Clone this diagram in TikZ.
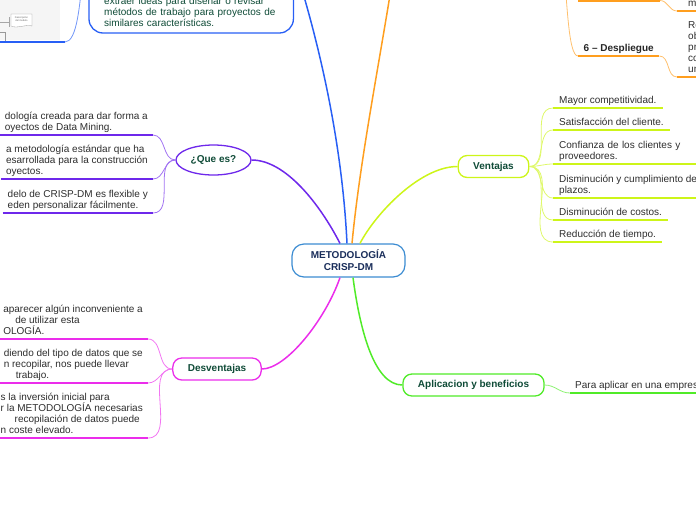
\documentclass[tikz,border=0pt]{standalone}
\usepackage{fontspec}
\setmainfont{Liberation Sans}
\usetikzlibrary{shapes.geometric}

\definecolor{azul}{RGB}{40,95,245}
\definecolor{naranja}{RGB}{255,158,30}
\definecolor{lila}{RGB}{110,40,235}
\definecolor{lima}{RGB}{205,245,25}
\definecolor{verde}{RGB}{80,235,40}
\definecolor{rosa}{RGB}{235,45,235}
\definecolor{borde}{RGB}{60,140,210}
\definecolor{tinta}{RGB}{15,75,55}
\definecolor{marino}{RGB}{25,45,90}
\definecolor{texto}{RGB}{45,45,45}

\begin{document}
\begin{tikzpicture}[
  x=1pt, y=-1pt,
  raiz/.style={
    draw=borde,
    line width=1.2pt,
    rounded corners=12pt,
    fill=white,
    align=center,
    minimum width=113pt,
    minimum height=33pt,
    font=\fontsize{10}{12}\selectfont\bfseries,
    text=marino
  },
  tema/.style={
    draw=#1,
    line width=1.3pt,
    rounded corners=9pt,
    fill=white,
    inner xsep=15pt,
    minimum height=22pt,
    font=\fontsize{10}{12}\selectfont\bfseries,
    text=tinta
  },
  globo/.style={
    ellipse,
    draw=#1,
    line width=1.3pt,
    fill=white,
    inner sep=0pt,
    minimum width=75pt,
    minimum height=30pt,
    font=\fontsize{10}{12}\selectfont\bfseries,
    text=tinta
  },
  hoja/.style={
    align=left,
    inner xsep=5pt,
    inner ysep=1.5pt,
    font=\fontsize{10}{11}\selectfont,
    text=texto,
    execute at end node=\strut
  },
  rama/.style={draw=#1, line width=1.5pt},
  hilo/.style={draw=#1!65, line width=0.8pt},
  raya/.style={draw=#1, line width=2pt}
]
\useasboundingbox (0,0) rectangle (696,520);
\clip (0,0) rectangle (696,520);

% --- Nodo central ---
\node[raiz] (crisp) at (348.5,260.5) {METODOLOGÍA\\CRISP-DM};

% --- ¿Que es? ---
\node[globo=lila] (quees) at (213.5,160) {¿Que es?};

\node[hoja,anchor=south east] (q1) at (153,135)
{dología creada para dar forma a\\oyectos de Data Mining.};

\node[hoja,anchor=south east] (q2) at (153,179)
{a metodología estándar que ha\\esarrollada para la construcción\\oyectos.};

\node[hoja,anchor=south east] (q3) at (153,213)
{delo de CRISP-DM es flexible y\\eden personalizar fácilmente.};

% --- Ventajas ---
\node[tema=lima] (ventajas) at (493.5,166.5) {Ventajas};

\node[hoja,anchor=south west,inner xsep=6pt] (v1) at (553,108) {Mayor competitividad.};
\node[hoja,anchor=south west,inner xsep=6pt] (v2) at (553,130) {Satisfacción del cliente.};
\node[hoja,anchor=south west,inner xsep=6pt,text width=140pt] (v3) at (553,164)
{Confianza de los clientes y\\proveedores.};
\node[hoja,anchor=south west,inner xsep=6pt] (v4) at (553,198)
{Disminución y cumplimiento de\\plazos.};
\node[hoja,anchor=south west,inner xsep=6pt] (v5) at (553,220) {Disminución de costos.};
\node[hoja,anchor=south west,inner xsep=6pt] (v6) at (553,242) {Reducción de tiempo.};

% --- Desventajas ---
\node[tema=rosa] (desv) at (217,369) {Desventajas};

\node[hoja,anchor=south east] (d1) at (148,339)
{aparecer algún inconveniente a\\\hspace*{12pt}de utilizar esta\\OLOGÍA.};

\node[hoja,anchor=south east] (d2) at (148,383)
{diendo del tipo de datos que se\\n recopilar, nos puede llevar\\\hspace*{12pt}trabajo.};

\node[hoja,anchor=south east] (d3) at (148,438)
{s la inversión inicial para\\r la METODOLOGÍA necesarias\\\hspace*{14pt}recopilación de datos puede\\n coste elevado.};

% --- Aplicacion y beneficios ---
\node[tema=verde] (aplic) at (473.5,385) {Aplicacion y beneficios};

\node[hoja,anchor=south west] (a1) at (570,393) {Para aplicar en una empresa};

% --- Fases (rama naranja, arriba a la derecha) ---
\coordinate (fases) at (562,-60);
\coordinate (fase5a) at (578,0.5);
\coordinate (fase5b) at (660,0.5);

\node[hoja,anchor=south west,inner xsep=5.5pt,
  font=\fontsize{10}{11}\selectfont\bfseries,text=black!85] (desp) at (578,56)
{6 – Despliegue};

\node[hoja,anchor=south west,inner xsep=11pt] (p0) at (677,11) {m};
\node[hoja,anchor=south west,inner xsep=11pt] (p1) at (677,77) {Re\\ob\\pr\\co\\un};

% --- Rama azul (arriba a la izquierda) ---
\node[hoja,anchor=south west,text width=174pt,inner xsep=15pt,inner ysep=3pt,
  text=tinta] (resumen) at (89,33)
{extraer ideas para diseñar o revisar\\métodos de trabajo para proyectos de\\similares características.};
\draw[azul,line width=1.3pt,rounded corners=14pt]
  ([yshift=40pt]resumen.north west) rectangle (resumen.south east);

% imagen incrustada
\node[anchor=south east,minimum width=80pt,minimum height=50pt,inner sep=0pt] (imagen) at (65,42) {};
\fill[black!4] (-5,-5) rectangle (60,40);
\draw[black!35,line width=0.3pt] (0,22) -- (9,22) (9,17) -- (9,27);
\draw[black!40,line width=0.3pt,fill=white]
  (11,14) -- (32,14) -- (32,26) .. controls (26,24) and (17,29) .. (11,26) -- cycle;
\node[font=\fontsize{2.5}{3}\selectfont,text=black!60,align=center] (imgtxt) at (21.5,19.5)
{Descripción\\del modelo};
\draw[black!40,line width=0.3pt] (-2,32) rectangle (5,41);

\coordinate (azulFin) at (296,-30);
\coordinate (naranjaFin) at (394,-30);
\coordinate (azulImg) at (83,-30);

% Ramas principales
\draw[rama=azul] ([xshift=-1.5pt]crisp.north) .. controls +(-5,-104) and +(22,70) .. (azulFin);
\draw[rama=naranja] ([xshift=3.5pt]crisp.north) .. controls +(8,-84) and +(-14,90) .. (naranjaFin);
\draw[rama=lila] ([xshift=-8.5pt]crisp.north) .. controls +(-20,-39) and +(34,0) .. (quees.east);
\draw[rama=lima] ([xshift=11.5pt]crisp.north) .. controls +(15,-29) and +(-38,0) .. (ventajas.west);
\draw[rama=rosa] ([xshift=-8.5pt]crisp.south) .. controls +(-15,43) and +(24,0) .. (desv.east);
\draw[rama=verde] ([xshift=4.5pt]crisp.south) .. controls +(7,53) and +(-28,0) .. (aplic.west);

% Hijos
\foreach \n in {q1,q2,q3} {
  \draw[hilo=lila] (quees.west) to[out=180,in=0] (\n.south east);
  \draw[raya=lila] (\n.south west) -- (\n.south east);
}
\foreach \n in {v1,v2,v3,v4,v5,v6} {
  \draw[hilo=lima] (ventajas.east) to[out=0,in=180] (\n.south west);
  \draw[raya=lima] (\n.south west) -- (\n.south east);
}
\foreach \n in {d1,d2,d3} {
  \draw[hilo=rosa] (desv.west) to[out=180,in=0] (\n.south east);
  \draw[raya=rosa] (\n.south west) -- (\n.south east);
}
\draw[hilo=verde] (aplic.east) to[out=0,in=180] (a1.south west);
\draw[raya=verde] (a1.south west) -- (a1.south east);

\draw[hilo=naranja] (fases) .. controls +(5,60) and +(-10,0) .. (desp.south west);
\draw[raya=naranja] (fase5a) -- (fase5b);
\draw[raya=naranja] (desp.south west) -- (desp.south east);
\draw[hilo=naranja] (fase5b) to[out=0,in=180] (p0.south west);
\draw[raya=naranja] (p0.south west) -- (p0.south east);
\draw[hilo=naranja] (desp.south east) to[out=0,in=180] (p1.south west);
\draw[raya=naranja] (p1.south west) -- (p1.south east);

\draw[hilo=azul] (imagen.south east) .. controls +(12,0) and +(-3,35) .. (azulImg);
\draw[raya=azul] (imagen.south west) -- (imagen.south east);

\end{tikzpicture}
\end{document}
